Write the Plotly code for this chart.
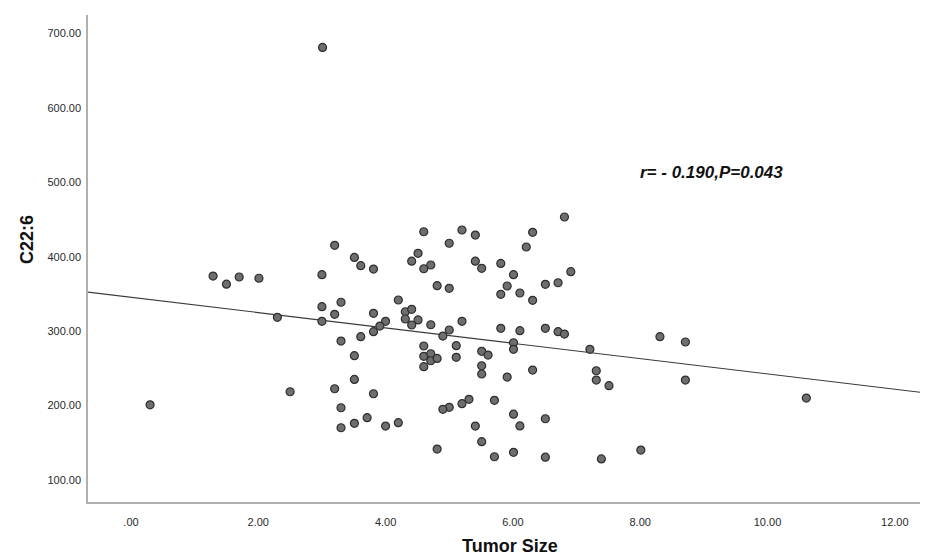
import plotly.graph_objects as go

# Tumor size (x) and C22:6 (y)
tumor_size = [
    0.30, 1.29, 1.50, 1.70, 2.01, 2.30, 2.50,
    4.60, 5.20, 5.41, 3.20, 5.00, 3.51, 4.51, 3.61, 3.81, 4.41, 4.60, 4.71, 5.41, 5.51,
    3.00, 4.81, 5.00, 4.20, 3.00, 3.30, 3.20, 3.81, 4.31, 4.41, 4.31, 4.51, 4.41, 4.00,
    3.91, 3.00, 4.71, 5.20, 3.81, 3.61, 5.00, 4.90, 3.30, 4.60, 5.11, 5.51, 5.61, 3.51,
    4.60, 4.71, 4.71, 4.81, 5.11, 4.60, 5.51, 5.51, 3.51, 3.20, 3.81, 5.71, 5.31, 5.20,
    5.00, 4.90, 3.30, 3.71, 3.51, 3.30, 4.00, 4.20, 5.41, 5.51, 4.81, 5.71,
    6.81, 6.31, 6.21, 5.81, 6.01, 6.91, 5.91, 5.81, 6.11, 6.31, 6.51, 6.71, 5.81, 6.11,
    6.51, 6.71, 6.81, 8.31, 8.71, 6.01, 6.01, 7.21, 5.91, 6.31, 7.31, 7.31, 7.51, 8.71,
    6.01, 6.11, 6.51, 6.01, 6.51, 7.39, 8.01,
    3.01, 10.61,
]
c22_6 = [
    201.0, 374.0, 363.0, 372.7, 371.0, 318.5, 218.6,
    433.5, 435.8, 429.0, 415.2, 418.0, 399.0, 404.5, 387.9, 383.4, 394.0, 383.8, 388.8, 394.0, 384.3,
    375.8, 361.0, 357.5, 341.8, 332.8, 338.8, 322.6, 323.9, 326.0, 329.3, 316.3, 315.0, 308.2, 313.2,
    306.8, 313.2, 308.6, 313.2, 299.2, 292.5, 301.5, 293.4, 286.7, 280.0, 280.4, 272.9, 267.9, 267.0,
    266.1, 269.6, 260.2, 263.4, 264.8, 252.2, 253.5, 242.4, 235.2, 222.6, 215.9, 207.0, 208.4, 202.5,
    197.6, 195.0, 197.1, 183.7, 176.2, 170.2, 172.5, 177.0, 172.5, 151.5, 141.6, 131.3,
    453.3, 432.7, 413.0, 391.0, 375.8, 379.8, 360.6, 349.4, 351.2, 341.4, 362.9, 365.0, 303.8, 300.6,
    303.8, 299.2, 296.1, 292.5, 285.4, 284.4, 275.5, 275.5, 238.3, 247.7, 246.8, 234.3, 226.7, 234.3,
    188.4, 172.7, 182.3, 137.2, 130.7, 128.4, 140.3,
    681.0, 210.1,
]

# Fit line
fit_intercept = 345.5
fit_slope = -10.3

x_range = [-0.675, 12.49]
y_range = [70.5, 724.6]
x_ticks = [0, 2, 4, 6, 8, 10, 12]
x_tick_labels = [".00", "2.00", "4.00", "6.00", "8.00", "10.00", "12.00"]
y_ticks = [100, 200, 300, 400, 500, 600, 700]
y_tick_labels = ["100.00", "200.00", "300.00", "400.00", "500.00", "600.00", "700.00"]
x_title = "Tumor Size"
y_title = "C22:6"
annotation_text = "r= - 0.190,P=0.043"

# The page body has an 8px margin, so the figure is 8px smaller and margins shifted
OFF = 8
W, H = 928 - OFF, 556 - OFF
ML, MR, MT, MB = 88 - OFF, 2, 15 - OFF, 54

fig = go.Figure()

fit_x = x_range
fit_y = [fit_intercept + fit_slope * v for v in fit_x]
fig.add_trace(go.Scatter(
    x=fit_x, y=fit_y, mode="lines",
    line=dict(color="#3a3a3a", width=1.1),
    hoverinfo="skip", showlegend=False,
))

fig.add_trace(go.Scatter(
    x=tumor_size, y=c22_6, mode="markers",
    marker=dict(size=8, color="#6e6e6e",
                line=dict(color="#2e2e2e", width=1.2)),
    showlegend=False,
))

font_family = "Liberation Sans, Arial, sans-serif"

pw, ph = W - ML - MR, H - MT - MB


def px_x(p):
    return (p - 88) / pw


def px_y(p):
    return 1 - (p - 15) / ph


fig.update_layout(
    width=W, height=H,
    margin=dict(l=ML, r=MR, t=MT, b=MB),
    paper_bgcolor="white", plot_bgcolor="white",
    font=dict(family=font_family, size=11, color="#333333"),
    xaxis=dict(
        range=x_range, tickvals=x_ticks, ticktext=x_tick_labels,
        showline=True, linecolor="#b0b0b0", linewidth=1.5,
        showgrid=False, zeroline=False,
        ticks="outside", ticklen=9, tickcolor="rgba(0,0,0,0)",
        tickfont=dict(size=11, color="#2a2a2a"),
    ),
    yaxis=dict(
        range=y_range, tickvals=y_ticks, ticktext=y_tick_labels,
        showline=True, linecolor="#b0b0b0", linewidth=1.5,
        showgrid=False, zeroline=False,
        ticks="outside", ticklen=3, tickcolor="rgba(0,0,0,0)",
        tickfont=dict(size=11, color="#2a2a2a"),
    ),
    annotations=[
        dict(
            x=px_x(711), y=px_y(172), xref="paper", yref="paper",
            xanchor="center", yanchor="middle", showarrow=False,
            text="<b><i>" + annotation_text + "</i></b>",
            font=dict(size=17, color="#111111", family=font_family),
        ),
        dict(
            x=px_x(510), y=px_y(546), xref="paper", yref="paper",
            xanchor="center", yanchor="middle", showarrow=False,
            text="<b>" + x_title + "</b>",
            font=dict(size=18, color="#111111", family=font_family),
        ),
        dict(
            x=px_x(27), y=px_y(240), xref="paper", yref="paper",
            xanchor="center", yanchor="middle", showarrow=False, textangle=-90,
            text="<b>" + y_title + "</b>",
            font=dict(size=18, color="#111111", family=font_family),
        ),
    ],
)

fig.write_html("out.html")
